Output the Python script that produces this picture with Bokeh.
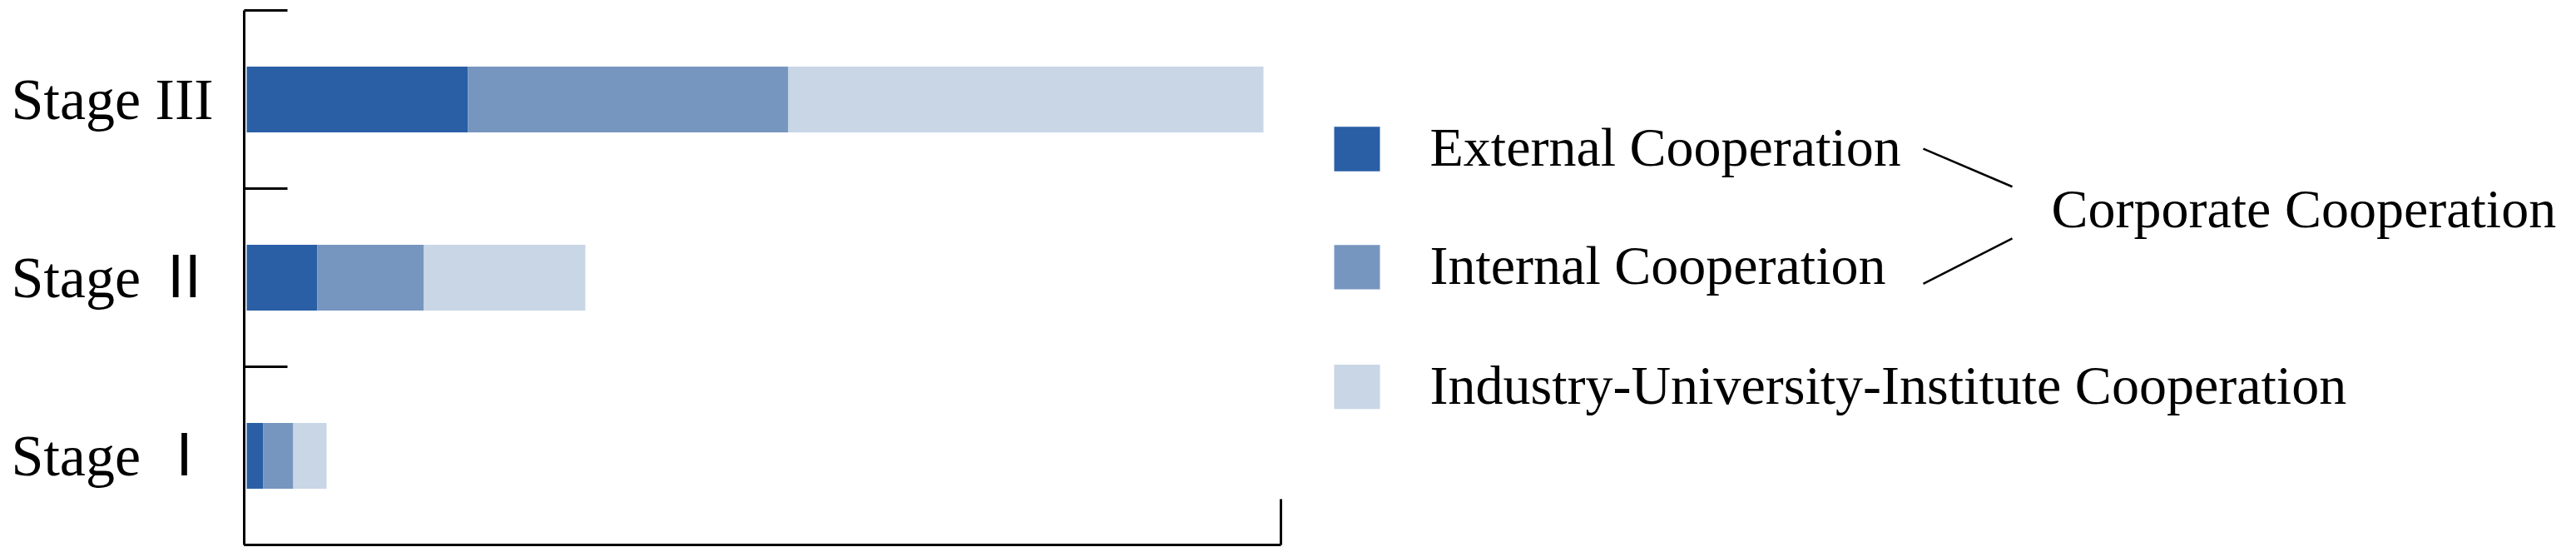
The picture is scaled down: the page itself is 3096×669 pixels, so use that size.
from bokeh.plotting import figure
from bokeh.layouts import row
from bokeh.models import Range1d, FixedTicker, ColumnDataSource
from bokeh.core.properties import value
from bokeh.embed import file_html
from bokeh.resources import INLINE

# ---- data ----
stages = ["Stage Ⅰ", "Stage Ⅱ", "Stage III"]
series = ["External Cooperation", "Internal Cooperation",
          "Industry-University-Institute Cooperation"]
external = [2.0, 8.5, 26.6]
internal = [3.6, 12.8, 38.5]
industry_univ_inst = [4.0, 19.4, 57.1]
group_label = "Corporate Cooperation"
x_max = 124.3

colors = ["#2a5fa5", "#7696c0", "#c8d6e6"]
FONT = "Liberation Serif"
LABEL_FONT = "'Liberation Serif', 'Noto Sans CJK JP'"

ypos = [0.5, 1.5, 2.5]
src = ColumnDataSource(dict(y=ypos, ext=external, intr=internal, iui=industry_univ_inst))

p = figure(width=1588, height=661, output_backend="svg", toolbar_location=None,
           x_range=Range1d(-0.3, x_max), y_range=Range1d(0, 3),
           min_border_left=293, min_border_right=49, min_border_top=12, min_border_bottom=7)
p.hbar_stack(["ext", "intr", "iui"], y="y", height=0.37, fill_color=colors,
             line_color=None, source=src)

p.grid.visible = False
p.outline_line_color = None
p.background_fill_color = "white"
p.border_fill_color = "white"

ya = p.yaxis[0]
ya.ticker = FixedTicker(ticks=ypos, minor_ticks=[0, 1, 2, 3])
ya.major_label_overrides = {ypos[i]: stages[i] for i in range(3)}
ya.major_tick_in = 0
ya.major_tick_out = 0
ya.minor_tick_in = 52
ya.minor_tick_out = 0
ya.minor_tick_line_width = 3
ya.minor_tick_line_color = "black"
ya.axis_line_width = 3
ya.axis_line_color = "black"
ya.major_label_standoff = 37
ya.major_label_text_font_size = "70px"
ya.major_label_text_font = LABEL_FONT
ya.major_label_text_color = "black"

xa = p.xaxis[0]
xa.ticker = FixedTicker(ticks=[x_max])
xa.major_label_overrides = {x_max: ""}
xa.major_tick_in = 55
xa.major_tick_out = 0
xa.major_tick_line_width = 3
xa.major_tick_line_color = "black"
xa.minor_tick_in = 0
xa.minor_tick_out = 0
xa.axis_line_width = 3
xa.axis_line_color = "black"
xa.major_label_text_font_size = "1px"
xa.major_label_standoff = 0

# ---- legend panel (1 data unit = 1 px) ----
q = figure(width=1500, height=661, output_backend="svg", toolbar_location=None,
           x_range=Range1d(0, 1500), y_range=Range1d(653, -8), min_border=0,
           x_axis_location=None, y_axis_location=None)
q.grid.visible = False
q.outline_line_color = None

leg_y = [163.5, 309.5, 457.5]
q.rect(x=[42.5] * 3, y=leg_y, width=55, height=55, fill_color=colors, line_color=None)
q.text(x=[130] * 3, y=[v - 2.5 for v in leg_y], text=series,
       text_font=value(FONT), text_font_size="66px", text_color="black",
       text_baseline="alphabetic", text_align="left")
q.text(x=[877], y=[236.6], text=[group_label],
       text_font=value(FONT), text_font_size="66px", text_color="black",
       text_baseline="alphabetic", text_align="left")
q.segment(x0=[723, 723], y0=[163, 330], x1=[830, 830], y1=[210, 274],
          line_color="black", line_width=2.5)

layout = row(p, q)
open("out.html", "w").write(file_html(layout, INLINE))
